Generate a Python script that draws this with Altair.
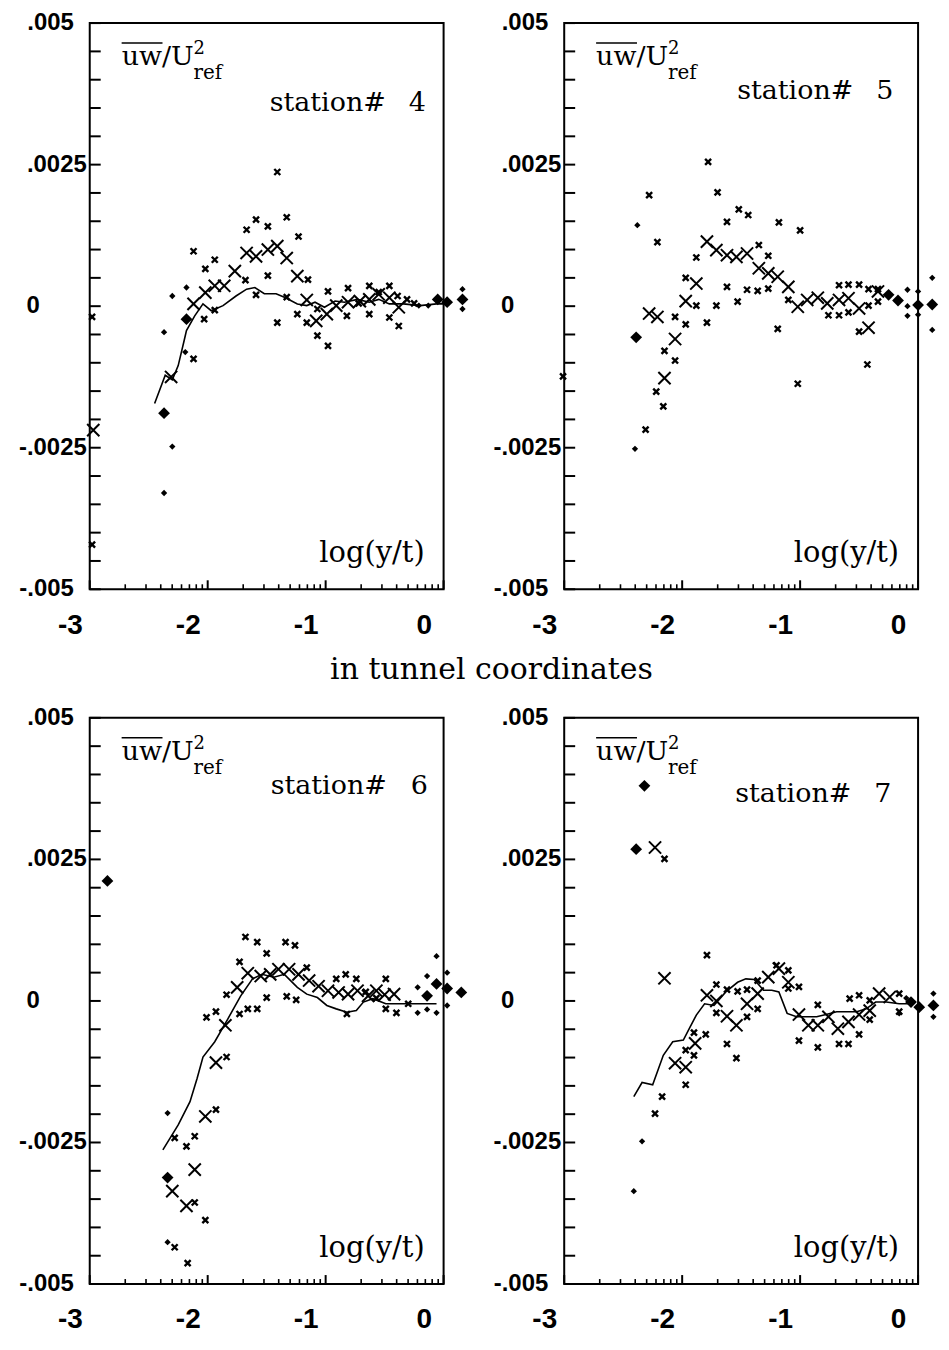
import altair as alt
import numpy as np
import pandas as pd

# ------------------------------------------------------------------
# Data: x = log(y/t), y = uw / U_ref^2
# ------------------------------------------------------------------
# station 4
ST4_SMALL_X = [-1.41, -1.59, -1.33, -1.67, -1.49, -1.23, -2.12, -1.94, -2.02, -1.68, -1.49, -1.59, -1.33,
               -1.15, -0.98, -0.81, -0.63, -0.46, -0.39, -0.31, -2.03, -1.94, -1.41, -1.24, -1.16, -1.07,
               -1.07, -0.98, -0.82, -0.63, -0.46, -0.38, -2.12, -2.98, -2.98, -0.72, -0.55, -0.25]
ST4_SMALL_Y = [0.00237, 0.00153, 0.00157, 0.00135, 0.00141, 0.00123, 0.00097, 0.00082, 0.00066, 0.00046,
               0.00054, 0.00020, 0.00016, 0.00047, 0.00026, 0.00032, 0.00036, 0.00036, 0.00018, 0.00012,
               -0.00023, -0.00007, -0.00029, -0.00014, -0.00029, -0.00005, -0.00052, -0.00070, -0.00017,
               -0.00014, -0.00020, -0.00035, -0.00093, -0.00019, -0.00421, 0.00005, 0.00025, 0.00005]
ST4_CROSS_X = [-2.12, -2.02, -1.94, -1.86, -1.77, -1.67, -1.59, -1.49, -1.41, -1.33, -1.24, -1.16, -1.08,
               -0.99, -0.91, -0.81, -0.71, -0.63, -0.55, -0.46, -0.38, -2.97, -2.31]
ST4_CROSS_Y = [0.00004, 0.00024, 0.00036, 0.00036, 0.00062, 0.00094, 0.00088, 0.00100, 0.00106, 0.00085,
               0.00053, 0.00011, -0.00026, -0.00014, 0.00001, 0.00007, 0.00009, 0.00012, 0.00021, 0.00015,
               -0.00002, -0.00219, -0.00125]
ST4_DIAM_X = [-2.18, -2.37, -0.05, 0.03, 0.16]
ST4_DIAM_Y = [-0.00023, -0.00189, 0.00012, 0.00007, 0.00012]
ST4_DOT_X = [-2.30, -2.18, -2.37, -2.19, -2.30, -2.37, -0.21, -0.13, 0.16, 0.16]
ST4_DOT_Y = [0.00018, 0.00033, -0.00046, -0.00081, -0.00248, -0.00330, 0.00001, 0.00001, 0.00030, -0.00005]
ST4_LINE_X = [-2.45, -2.36, -2.30, -2.25, -2.20, -2.18, -2.11, -2.04, -1.97, -1.87, -1.76, -1.67, -1.60,
              -1.52, -1.42, -1.34, -1.24, -1.16, -1.09, -1.01, -0.92, -0.84, -0.73, -0.63, -0.55, -0.46,
              -0.34, -0.20, -0.06, 0.01]
ST4_LINE_Y = [-0.00172, -0.00122, -0.00130, -0.00105, -0.00061, -0.00043, -0.00017, 0.00004, -0.00008,
              0.00001, 0.00018, 0.00030, 0.00033, 0.00022, 0.00022, 0.00015, 0.00004, 0.00001, 0.00007,
              -0.00002, 0.00009, 0.00007, 0.00012, 0.00007, 0.00012, 0.00004, 0.00004, 0.00001, 0.00004,
              0.00004]

# station 5
ST5_SMALL_X = [-1.78, -2.28, -1.70, -1.52, -1.44, -1.62, -1.18, -1.00, -2.21, -1.35, -1.88, -1.27, -1.97,
               -1.62, -1.45, -1.36, -1.27, -1.53, -1.71, -1.88, -2.06, -1.97, -1.79, -1.19, -1.10, -0.67,
               -0.59, -0.50, -0.42, -0.34, -0.67, -0.59, -0.76, -0.42, -0.34, -0.50, -2.15, -2.06, -2.22,
               -2.16, -2.31, -1.02, -0.43, -3.01]
ST5_SMALL_Y = [0.00255, 0.00196, 0.00201, 0.00171, 0.00161, 0.00149, 0.00148, 0.00134, 0.00113, 0.00108,
               0.00086, 0.00089, 0.00050, 0.00034, 0.00029, 0.00027, 0.00031, 0.00008, 0.00001, 0.00001,
               -0.00019, -0.00032, -0.00029, -0.00040, 0.00011, 0.00037, 0.00038, 0.00038, 0.00030,
               0.00030, -0.00016, -0.00011, -0.00016, 0.00001, 0.00008, -0.00045, -0.00079, -0.00096,
               -0.00151, -0.00177, -0.00218, -0.00137, -0.00103, -0.00124]
ST5_CROSS_X = [-1.79, -1.71, -1.62, -1.54, -1.45, -1.35, -1.27, -1.19, -1.10, -1.88, -1.97, -1.02, -0.94,
               -0.85, -0.77, -0.67, -0.59, -0.50, -0.42, -0.34, -2.28, -2.21, -2.06, -2.15]
ST5_CROSS_Y = [0.00114, 0.00099, 0.00090, 0.00087, 0.00093, 0.00067, 0.00058, 0.00052, 0.00034, 0.00040,
               0.00009, -0.00001, 0.00011, 0.00015, 0.00005, 0.00011, 0.00014, -0.00004, -0.00038,
               0.00026, -0.00013, -0.00019, -0.00058, -0.00127]
ST5_DIAM_X = [-2.39, 0.00, 0.12, -0.25, -0.17]
ST5_DIAM_Y = [-0.00055, 0.00002, 0.00003, 0.00020, 0.00010]
ST5_DOT_X = [-2.38, -2.40, -0.09, 0.12, 0.12, -0.09, -0.09, 0.00, 0.00]
ST5_DOT_Y = [0.00143, -0.00252, 0.00000, 0.00050, -0.00042, 0.00029, -0.00017, 0.00026, -0.00015]

# station 6
ST6_SMALL_X = [-1.68, -1.58, -1.34, -1.26, -1.50, -1.73, -1.16, -0.83, -0.74, -0.91, -0.49, -1.84, -1.50,
               -1.33, -1.25, -2.01, -1.93, -1.73, -1.66, -1.58, -0.82, -0.49, -0.40, -1.84, -1.93, -2.11,
               -2.18, -2.28, -2.11, -2.02, -2.28, -2.17, -0.66, -0.57, -0.30]
ST6_SMALL_Y = [0.00113, 0.00104, 0.00104, 0.00098, 0.00084, 0.00069, 0.00059, 0.00047, 0.00039, 0.00039,
               0.00039, 0.00011, 0.00006, 0.00008, 0.00002, -0.00029, -0.00019, -0.00023, -0.00014,
               -0.00014, -0.00023, -0.00014, -0.00021, -0.00099, -0.00192, -0.00239, -0.00257, -0.00242,
               -0.00356, -0.00387, -0.00435, -0.00463, 0.00016, 0.00005, -0.00005]
ST6_CROSS_X = [-2.30, -2.18, -2.11, -2.02, -1.93, -1.85, -1.75, -1.66, -1.55, -1.47, -1.40, -1.31, -1.23,
               -1.14, -1.06, -0.98, -0.89, -0.81, -0.73, -0.64, -0.57, -0.50, -0.42]
ST6_CROSS_Y = [-0.00336, -0.00362, -0.00298, -0.00204, -0.00109, -0.00043, 0.00024, 0.00049, 0.00044,
               0.00047, 0.00056, 0.00056, 0.00047, 0.00036, 0.00026, 0.00018, 0.00015, 0.00012, 0.00018,
               0.00009, 0.00018, 0.00011, 0.00012]
ST6_DIAM_X = [-2.85, -2.34, -0.14, -0.06, 0.03, 0.15]
ST6_DIAM_Y = [0.00212, -0.00312, 0.00009, 0.00030, 0.00022, 0.00015]
ST6_DOT_X = [-2.34, -2.34, -0.06, -0.14, -0.22, -0.22, -0.14, -0.06, 0.03, 0.03]
ST6_DOT_Y = [-0.00198, -0.00426, 0.00079, 0.00044, 0.00024, -0.00021, -0.00015, -0.00021, 0.00050, -0.00008]
ST6_LINE_X = [-2.38, -2.25, -2.15, -2.09, -2.04, -1.94, -1.83, -1.72, -1.62, -1.54, -1.44, -1.35, -1.24,
              -1.16, -1.07, -0.99, -0.91, -0.82, -0.74, -0.68, -0.60, -0.49, -0.32, -0.18, -0.06]
ST6_LINE_Y = [-0.00263, -0.00219, -0.00178, -0.00137, -0.00099, -0.00072, -0.00032, 0.00009, 0.00039,
              0.00047, 0.00042, 0.00047, 0.00024, 0.00012, 0.00006, -0.00008, -0.00014, -0.00020, -0.00017,
              -0.00002, 0.00004, -0.00005, -0.00005, -0.00005, -0.00005]

# station 7
ST7_SMALL_X = [-2.15, -1.79, -1.71, -1.62, -1.53, -1.45, -1.36, -1.20, -1.10, -1.01, -1.10, -1.71, -1.45,
               -1.36, -1.80, -1.90, -1.97, -1.90, -1.62, -1.54, -1.97, -2.17, -2.23, -0.85, -1.01, -0.85,
               -0.67, -0.59, -0.50, -0.58, -0.50, -0.41, -0.41, -0.16, -0.16]
ST7_SMALL_Y = [0.00251, 0.00081, 0.00029, 0.00020, 0.00017, 0.00020, 0.00036, 0.00063, 0.00054, 0.00025,
               0.00022, -0.00021, -0.00028, -0.00014, -0.00059, -0.00056, -0.00087, -0.00096, -0.00076,
               -0.00101, -0.00148, -0.00169, -0.00199, -0.00007, -0.00070, -0.00082, -0.00076, -0.00076,
               -0.00059, 0.00004, 0.00010, 0.00001, -0.00033, 0.00013, -0.00019]
ST7_CROSS_X = [-2.23, -2.15, -2.06, -1.97, -1.89, -1.79, -1.71, -1.62, -1.54, -1.45, -1.36, -1.27, -1.18,
               -1.10, -1.01, -0.93, -0.85, -0.76, -0.68, -0.59, -0.50, -0.41, -0.33, -0.24]
ST7_CROSS_Y = [0.00271, 0.00040, -0.00110, -0.00117, -0.00075, 0.00010, 0.00000, -0.00027, -0.00043,
               -0.00005, 0.00013, 0.00042, 0.00057, 0.00033, -0.00024, -0.00043, -0.00043, -0.00028,
               -0.00049, -0.00037, -0.00024, -0.00017, 0.00013, 0.00007]
ST7_DIAM_X = [-2.32, -2.39, -0.06, 0.01, 0.13]
ST7_DIAM_Y = [0.00380, 0.00268, -0.00002, -0.00011, -0.00008]
ST7_DOT_X = [-2.34, -2.41, 0.13, 0.13, -0.16, -0.10]
ST7_DOT_Y = [-0.00248, -0.00336, 0.00013, -0.00028, -0.00022, 0.00005]
ST7_LINE_X = [-2.41, -2.34, -2.25, -2.16, -2.08, -1.99, -1.94, -1.88, -1.81, -1.73, -1.63, -1.53, -1.46,
              -1.39, -1.31, -1.24, -1.18, -1.11, -1.03, -0.94, -0.86, -0.78, -0.69, -0.61, -0.52, -0.44,
              -0.36, -0.27, -0.16, -0.05]
ST7_LINE_Y = [-0.00169, -0.00144, -0.00148, -0.00096, -0.00072, -0.00069, -0.00049, -0.00025, -0.00005,
              -0.00008, 0.00016, 0.00033, 0.00039, 0.00038, 0.00019, 0.00019, 0.00016, -0.00022, -0.00028,
              -0.00028, -0.00028, -0.00024, -0.00019, -0.00019, -0.00019, -0.00014, -0.00002, -0.00002,
              -0.00005, -0.00005]

STATIONS = ["4", "5", "6", "7"]
X_TICK_VALUES = [-3, -2, -1, 0]
X_TICK_LABELS = ["-3", "-2", "-1", "0"]
Y_TICK_VALUES = [-0.005, -0.0025, 0.0, 0.0025, 0.005]
Y_TICK_LABELS = ["-.005", "-.0025", "0", ".0025", ".005"]
Y_LABEL_TEXT = ["uw/U", "2", "ref"]
X_NAME = "log(y/t)"
MID_TEXT = "in tunnel coordinates"

# ------------------------------------------------------------------
# Layout / style
# ------------------------------------------------------------------
W, H = 355, 568
SERIF = "DejaVu Serif"
SANS = "Liberation Sans, Arial, sans-serif"
YLAB_SIZE = 24
XPATH = "M-1,-1L1,1M-1,1L1,-1"

# per-panel placement of "station# N": (right end of word, baseline, left of number)
TITLE_POS = {"4": (297, 88, 320), "5": (290, 76, 313), "6": (298, 76, 322), "7": (288, 84, 311)}

X_MAJOR = [-3.0, -2.0, -1.0, 0.0]
X_MINOR = [float(n + np.log10(k)) for n in (-3, -2, -1) for k in range(2, 10)]
Y_MINOR = [float(v) for v in np.round(np.arange(-0.005, 0.00501, 0.0005), 5)]


def label_shift(s):
    # plotter labels sit in a fixed ".dddd" field, right-aligned: missing characters leave a gap
    core = s.lstrip("-")
    nd = sum(c.isdigit() for c in core)
    gap = (0.556 * (4 - nd) + (0 if "." in core else 0.278)) * YLAB_SIZE
    return 3 + round(gap)


def label_expr(values, labels):
    expr = "datum.label"
    for v, lab in zip(values, labels):
        expr = f"(abs(datum.value - ({v})) < 1e-9 ? '{lab}' : {expr})"
    return expr


XS = alt.Scale(domain=[-3, 0], nice=False, zero=False)
YS = alt.Scale(domain=[-0.005, 0.005], nice=False, zero=False)

X_AXIS = alt.Axis(values=X_TICK_VALUES, labelExpr=label_expr(X_TICK_VALUES, X_TICK_LABELS), title=None,
                  grid=False, domain=False, ticks=False, tickSize=0, labelFont=SANS, labelFontSize=28,
                  labelFontWeight="bold", labelColor="black", labelPadding=22, labelOffset=-20,
                  labelFlush=False, labelOverlap=False)
Y_AXIS = alt.Axis(values=Y_TICK_VALUES, labels=False, title=None, grid=False, domain=False, ticks=False,
                  tickSize=0)

YLAB_DF = pd.DataFrame({"v": Y_TICK_VALUES, "label": Y_TICK_LABELS,
                        "shift": [label_shift(s) for s in Y_TICK_LABELS]})


def ex(f):
    return alt.X(f, type="quantitative", scale=XS, axis=X_AXIS)


def ey(f):
    return alt.Y(f, type="quantitative", scale=YS, axis=Y_AXIS)


ONE = alt.Data(values=[{}])


def text(t, x, y, size, align="left", font=SERIF):
    return alt.Chart(ONE).mark_text(text=t, font=font, fontSize=size, align=align, baseline="alphabetic",
                                    color="black").encode(x=alt.value(x), y=alt.value(y))


def points(xs, ys, **mk):
    return alt.Chart(pd.DataFrame({"x": xs, "y": ys})).mark_point(opacity=1, **mk).encode(x=ex("x"), y=ey("y"))


def y_labels():
    out = []
    for sh in sorted(set(YLAB_DF["shift"])):
        sub = YLAB_DF[YLAB_DF["shift"] == sh]
        out.append(alt.Chart(sub).mark_text(font=SANS, fontSize=YLAB_SIZE, fontWeight="bold", align="right",
                                            baseline="middle", color="black").encode(
            y=ey("v"), x=alt.value(-sh), text="label:N"))
    return out


def panel(st, small, cross, diam, dot, line=None, mid=False):
    layers = [
        alt.Chart(pd.DataFrame({"v": Y_MINOR})).mark_rule(color="black", strokeWidth=2).encode(
            y=ey("v"), x=alt.value(0), x2=alt.value(11)),
        alt.Chart(pd.DataFrame({"v": X_MAJOR})).mark_rule(color="black", strokeWidth=2).encode(
            x=ex("v"), y=alt.value(H), y2=alt.value(H - 9)),
        alt.Chart(pd.DataFrame({"v": X_MINOR})).mark_rule(color="black", strokeWidth=1.6).encode(
            x=ex("v"), y=alt.value(H), y2=alt.value(H - 5)),
    ] + y_labels()
    if line is not None:
        df = pd.DataFrame({"x": line[0], "y": line[1], "i": list(range(len(line[0])))})
        layers.append(alt.Chart(df).mark_line(color="black", strokeWidth=1.6).encode(
            x=ex("x"), y=ey("y"), order="i:Q"))
    layers += [
        points(*small, shape=XPATH, size=36, filled=False, stroke="black", strokeWidth=2.4),
        points(*cross, shape=XPATH, size=150, filled=False, stroke="black", strokeWidth=2),
        points(*diam, shape="diamond", size=140, filled=True, fill="black", strokeWidth=0),
        points(*dot, shape="diamond", size=40, filled=True, fill="black", strokeWidth=0),
    ]
    wr, ty, nl = TITLE_POS[st]
    layers += [
        text(Y_LABEL_TEXT[0], 32, 42, 27),
        alt.Chart(ONE).mark_rule(color="black", strokeWidth=1.6).encode(
            x=alt.value(32), x2=alt.value(73), y=alt.value(20)),
        text(Y_LABEL_TEXT[1], 104, 31, 18),
        text(Y_LABEL_TEXT[2], 104, 56, 20),
        text("station#", wr, ty, 27, align="right"),
        text(st, nl, ty, 27, align="left"),
        text(X_NAME, 336, 541, 29, align="right"),
    ]
    if mid:
        layers.append(text(MID_TEXT, 403, 658, 30, align="center"))
    return alt.layer(*layers).properties(width=W, height=H)


p4 = panel("4", (ST4_SMALL_X, ST4_SMALL_Y), (ST4_CROSS_X, ST4_CROSS_Y), (ST4_DIAM_X, ST4_DIAM_Y),
           (ST4_DOT_X, ST4_DOT_Y), (ST4_LINE_X, ST4_LINE_Y), mid=True)
p5 = panel("5", (ST5_SMALL_X, ST5_SMALL_Y), (ST5_CROSS_X, ST5_CROSS_Y), (ST5_DIAM_X, ST5_DIAM_Y),
           (ST5_DOT_X, ST5_DOT_Y))
p6 = panel("6", (ST6_SMALL_X, ST6_SMALL_Y), (ST6_CROSS_X, ST6_CROSS_Y), (ST6_DIAM_X, ST6_DIAM_Y),
           (ST6_DOT_X, ST6_DOT_Y), (ST6_LINE_X, ST6_LINE_Y))
p7 = panel("7", (ST7_SMALL_X, ST7_SMALL_Y), (ST7_CROSS_X, ST7_CROSS_Y), (ST7_DIAM_X, ST7_DIAM_Y),
           (ST7_DOT_X, ST7_DOT_Y), (ST7_LINE_X, ST7_LINE_Y))

chart = (
    alt.concat(p4, p5, p6, p7, columns=2, spacing={"row": 129, "column": 121}, bounds="flush")
    .properties(padding={"left": 9, "top": 0, "right": 0, "bottom": 0}, background="white")
    .configure_view(stroke="black", strokeWidth=2)
)

chart.save("out.html", embed_options={"renderer": "svg", "actions": False})
